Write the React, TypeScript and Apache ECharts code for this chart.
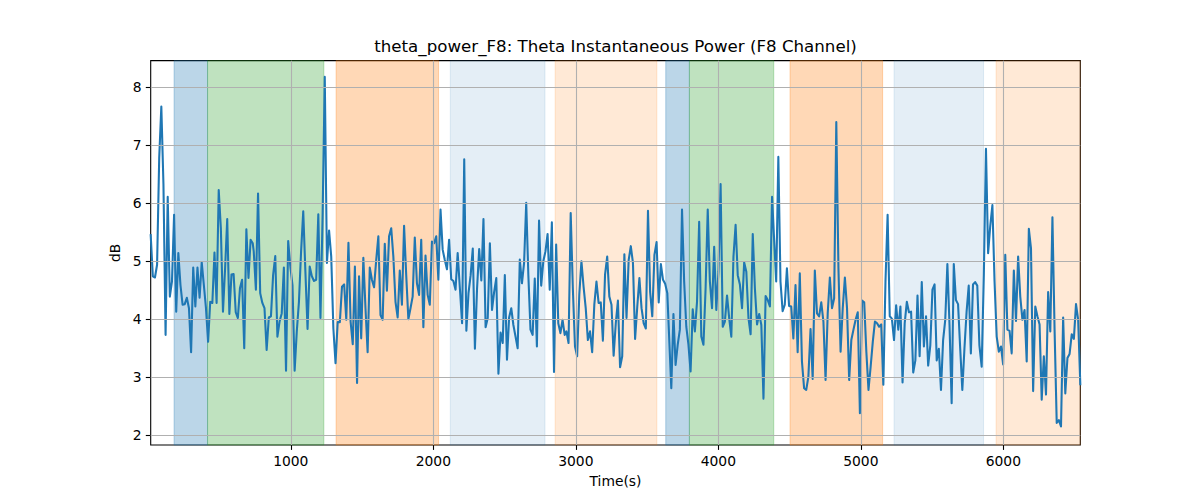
import React, { useEffect, useRef } from "react";
import * as echarts from "echarts";

// ---- data ----
const titleText = "theta_power_F8: Theta Instantaneous Power (F8 Channel)";
const xTickValues = [1000, 2000, 3000, 4000, 5000, 6000];
const yTickValues = [2, 3, 4, 5, 6, 7, 8];

// time span of each traced chunk of the signal (seconds)
const segStart = [17, 740, 1479, 2202, 2934, 3670, 4391, 5128, 5848];
const segEnd = [733, 1465, 2171, 2922, 3642, 4377, 5114, 5832, 6540];

const seg1 = [5.45, 4.74, 4.72, 4.94, 6.78, 7.67, 6.32, 3.73, 6.11, 4.39, 4.65, 5.8, 4.13, 5.14, 4.59, 4.25, 4.26, 4.37, 4.19, 3.43, 4.89, 4.22, 4.89, 4.37, 4.98, 4.59, 4.19, 3.61, 4.3, 4.28, 5.15, 4.28, 6.23, 5.57, 4.13, 4.88, 5.73, 4.09, 4.77, 4.78, 4.12, 4.02, 4.54, 4.68, 3.5, 5.55, 4.71, 5.37, 5.31];
const seg2 = [5.17, 4.51, 6.17, 4.45, 4.28, 4.19, 3.47, 4.03, 4.05, 4.76, 5.09, 3.7, 3.96, 4.1, 4.89, 3.11, 5.35, 4.91, 4.59, 3.11, 3.79, 4.3, 5.17, 5.86, 4.82, 3.83, 4.91, 4.74, 4.66, 4.68, 5.81, 4.02, 5.8, 8.18, 4.97, 5.53, 5.08, 3.84, 3.24, 3.95, 3.95, 4.56, 4.6, 3.99, 5.32, 3.96, 3.57, 4.91, 2.9];
const seg3 = [4.74, 3.67, 5.06, 4.19, 3.43, 4.89, 4.68, 4.55, 5.02, 5.43, 4.07, 3.99, 5.3, 4.49, 5.43, 5.57, 5.08, 4.3, 4.03, 4.84, 4.25, 5.61, 4.76, 4.0, 4.19, 4.39, 5.41, 4.62, 4.42, 5.37, 3.86, 5.1, 4.42, 4.25, 5.34, 5.31, 5.43, 4.68, 5.89, 5.2, 5.02, 4.86, 5.37, 4.69, 4.66, 4.51, 5.14];
const seg4 = [3.93, 6.76, 3.8, 4.45, 4.76, 5.22, 3.49, 4.53, 5.21, 4.67, 5.73, 3.86, 4.02, 5.31, 4.16, 4.47, 4.71, 3.06, 3.77, 3.59, 4.76, 3.3, 4.03, 4.19, 3.9, 3.7, 3.5, 5.03, 4.62, 4.97, 6.01, 4.76, 3.82, 3.73, 4.7, 3.53, 5.7, 4.58, 5.0, 5.17, 5.47, 4.51, 5.67, 3.09, 5.29, 3.93, 3.76, 3.99, 3.73];
const seg5 = [3.79, 3.59, 5.83, 4.53, 3.53, 3.36, 4.42, 5.0, 4.56, 4.19, 3.64, 3.79, 3.43, 4.25, 4.65, 4.28, 4.29, 3.63, 4.77, 5.08, 4.39, 4.25, 3.37, 3.93, 4.32, 3.17, 3.36, 5.12, 4.02, 5.02, 5.26, 4.97, 3.66, 4.21, 4.71, 4.19, 3.93, 3.84, 5.87, 4.47, 4.05, 5.11, 5.33, 4.29, 4.95, 4.68, 4.61, 4.45];
const seg6 = [2.81, 4.09, 3.21, 3.56, 3.82, 5.89, 4.65, 3.87, 3.56, 3.1, 4.17, 3.79, 4.3, 5.68, 3.7, 3.56, 4.53, 5.89, 4.65, 4.19, 5.25, 4.16, 4.82, 6.33, 3.87, 3.96, 4.41, 4.02, 3.7, 5.08, 5.63, 4.76, 4.6, 4.19, 4.98, 4.82, 4.02, 3.74, 5.47, 4.53, 3.91, 4.09, 3.9, 2.63, 4.4, 4.33, 4.22, 6.11];
const seg7 = [5.4, 4.65, 6.8, 4.65, 4.14, 4.25, 4.88, 4.23, 4.22, 3.67, 4.59, 3.43, 4.79, 3.27, 2.81, 2.78, 3.01, 3.83, 2.97, 4.84, 4.1, 4.05, 4.29, 3.96, 2.95, 4.1, 4.72, 4.19, 4.36, 7.4, 4.88, 3.44, 4.19, 4.72, 4.19, 2.95, 3.64, 3.82, 3.99, 4.12, 2.38, 4.32, 4.29, 3.44, 2.78, 3.18, 3.61, 3.96, 3.93];
const seg8 = [3.87, 3.91, 2.87, 4.65, 5.8, 4.05, 4.01, 3.64, 4.24, 3.82, 4.22, 2.91, 3.93, 4.3, 4.12, 4.13, 3.08, 3.29, 4.41, 3.36, 4.64, 3.53, 4.05, 3.2, 3.55, 4.51, 4.6, 3.29, 3.49, 2.78, 3.64, 3.99, 4.95, 3.9, 2.55, 4.95, 4.33, 4.26, 3.5, 2.78, 3.5, 4.13, 4.58, 3.41, 4.6, 4.64, 4.58, 3.55];
const seg9 = [3.18, 4.76, 6.94, 5.14, 5.61, 5.97, 4.65, 3.7, 3.44, 3.53, 3.22, 5.11, 3.82, 3.8, 3.41, 4.84, 3.97, 5.08, 4.39, 3.99, 4.16, 3.27, 5.56, 5.22, 2.76, 4.22, 4.05, 3.91, 2.61, 3.36, 2.7, 4.47, 3.79, 5.76, 3.82, 2.21, 2.26, 2.15, 4.03, 2.72, 3.33, 3.4, 3.74, 3.66, 4.26, 3.99, 2.88];
const segments = [seg1, seg2, seg3, seg4, seg5, seg6, seg7, seg8, seg9];

// shaded intervals
const regionStarts = [181, 416, 1318, 2119, 2855, 3631, 3797, 4503, 5233, 5949];
const regionEnds = [416, 1232, 2037, 2784, 3569, 3797, 4389, 5153, 5861, 6540];
const regionKinds = ["blue", "green", "orange", "lightblue", "lightorange", "blue", "green", "orange", "lightblue", "lightorange"];
const regionColors: Record<string, string> = {
  blue: "rgba(31,119,180,0.3)",
  green: "rgba(44,160,44,0.3)",
  orange: "rgba(255,127,14,0.3)",
  lightblue: "rgba(31,119,180,0.12)",
  lightorange: "rgba(255,127,14,0.17)",
};

const X_MIN = 17;
const X_MAX = 6540;
const Y_MIN = 1.83;
const Y_MAX = 8.46;

function buildData(): [number, number][] {
  const out: [number, number][] = [];
  segments.forEach((vals, i) => {
    const n = vals.length;
    const s = segStart[i];
    const e = segEnd[i];
    vals.forEach((v, j) => {
      const t = n > 1 ? s + (j * (e - s)) / (n - 1) : s;
      out.push([t, v]);
    });
  });
  return out;
}

const FONT = "DejaVu Sans";

export default function App() {
  const ref = useRef<HTMLDivElement>(null);
  useEffect(() => {
    document.body.style.margin = "0";
    if (!ref.current) return;
    const chart = echarts.init(ref.current, undefined, { renderer: "svg" });
    const gridColor = "#b0b0b0";
    const option: any = {
      animation: false,
      backgroundColor: "#ffffff",
      textStyle: { fontFamily: FONT },
      graphic: [
        {
          type: "text",
          x: 615.5,
          y: 46,
          silent: true,
          style: {
            text: titleText,
            fontSize: 16.67,
            fontFamily: FONT,
            fill: "#000",
            textAlign: "center",
            textVerticalAlign: "middle",
          },
        },
      ],
      grid: {
        left: 150.7,
        right: 119.7,
        top: 60.67,
        bottom: 55,
        show: true,
        borderColor: "#000",
        borderWidth: 1.1,
        backgroundColor: "transparent",
        containLabel: false,
      },
      xAxis: {
        type: "value",
        min: X_MIN,
        max: X_MAX,
        name: "Time(s)",
        nameLocation: "middle",
        nameGap: 29,
        nameTextStyle: { fontSize: 13.89, color: "#000", fontFamily: FONT },
        axisLine: { show: false },
        splitLine: { show: false },
        axisTick: {
          show: true,
          length: 4.9,
          lineStyle: { color: "#000", width: 1.1 },
          customValues: xTickValues,
        },
        axisLabel: {
          show: true,
          margin: 9,
          fontSize: 13.89,
          color: "#000",
          fontFamily: FONT,
          customValues: xTickValues,
          formatter: (v: number) => String(v),
        },
      },
      yAxis: {
        type: "value",
        min: Y_MIN,
        max: Y_MAX,
        name: "dB",
        nameLocation: "middle",
        nameGap: 25,
        nameRotate: 90,
        nameTextStyle: { fontSize: 13.89, color: "#000", fontFamily: FONT },
        axisLine: { show: false },
        splitLine: { show: false },
        axisTick: {
          show: true,
          length: 4.9,
          lineStyle: { color: "#000", width: 1.1 },
          customValues: yTickValues,
        },
        axisLabel: {
          show: true,
          margin: 9,
          fontSize: 13.89,
          color: "#000",
          fontFamily: FONT,
          customValues: yTickValues,
          formatter: (v: number) => String(v),
        },
      },
      series: [
        {
          type: "line",
          name: "regions",
          data: [],
          z: 1,
          silent: true,
          markArea: {
            silent: true,
            label: { show: false },
            data: regionStarts.map((s, i) => [
              {
                xAxis: s,
                itemStyle: {
                  color: regionColors[regionKinds[i]],
                  borderColor: regionColors[regionKinds[i]],
                  borderWidth: 1,
                },
              },
              { xAxis: regionEnds[i] },
            ]),
          },
        },
        {
          type: "line",
          name: "grid",
          data: [],
          z: 2,
          silent: true,
          markLine: {
            silent: true,
            symbol: "none",
            label: { show: false },
            lineStyle: { color: gridColor, width: 1.1, type: "solid" },
            data: [
              ...xTickValues.map((v) => ({ xAxis: v })),
              ...yTickValues.map((v) => ({ yAxis: v })),
            ],
          },
        },
        {
          type: "line",
          name: "theta_power_F8",
          data: buildData(),
          z: 3,
          showSymbol: false,
          symbol: "none",
          silent: true,
          lineStyle: { color: "#1f77b4", width: 2.08, join: "round", cap: "square" },
        },
      ],
    };
    chart.setOption(option);
    return () => {
      chart.dispose();
    };
  }, []);
  return <div ref={ref} style={{ width: 1200, height: 500 }} />;
}
